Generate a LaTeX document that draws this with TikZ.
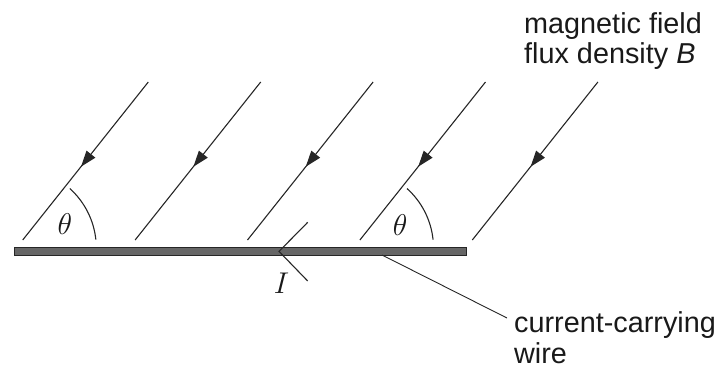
\RequirePackage{fix-cm}
\documentclass[tikz,border=0pt]{standalone}
\usepackage{fontspec}
\setmainfont{Liberation Sans}
\usetikzlibrary{arrows.meta,decorations.markings}
\begin{document}
\begin{tikzpicture}[x=1pt,y=-1pt,
  fieldline/.style={line width=1.1pt, draw=black!85, postaction={decorate},
    decoration={markings, mark=at position 0.536 with {\arrow{Triangle[length=16pt,width=11pt]}}}},
  thinline/.style={line width=1.1pt, draw=black!85},
  lbl/.style={font=\fontsize{28.8}{31}\selectfont, inner sep=0pt, text=black!90},
  mathlbl/.style={font=\fontsize{30}{34}\selectfont, inner sep=0pt, text=black!90},
  wirestyle/.style={draw=black!85, fill=black!60, line width=0.8pt, inner sep=0pt, outer sep=0pt}]
\useasboundingbox (0,0) rectangle (723,373);
% field lines
\foreach \i/\bx in {1/22.7,2/135.1,3/247.5,4/359.9,5/472.3} {
  \coordinate (b\i) at (\bx,240);
  \coordinate (t\i) at (\bx+125.6,82);
  \draw[fieldline] (t\i) -- (b\i);
}
% wire
\node[wirestyle, minimum width=452pt, minimum height=7.3pt] (wire) at (240,251.4) {};
% current chevron
\coordinate (itip) at (279,251.4);
\coordinate (iup) at (307.7,222.3);
\coordinate (ilo) at (307.7,281);
\draw[thinline] (iup) -- (itip) -- (ilo);
\node[mathlbl] (Ilabel) at (281.5,283) {$I$};
% angle arcs
\coordinate (c1) at (16.3,248);
\coordinate (c4) at (353.5,248);
\draw[thinline] ([shift={(-6:80)}]c1) arc[start angle=-6,end angle=-48,radius=80];
\draw[thinline] ([shift={(-6:80)}]c4) arc[start angle=-6,end angle=-48,radius=80];
\node[mathlbl] (th1) at (65,224) {$\theta$};
\node[mathlbl] (th4) at (400,225) {$\theta$};
% wire label
\coordinate (wp) at (382,255);
\coordinate (lend) at (507,318);
\draw[thinline, line width=0.9pt] (wp) -- (lend);
\node[lbl, anchor=base west] (cc1) at (514,332) {current-carrying};
\node[lbl, anchor=base west] (cc2) at (514,363) {wire};
% field label
\node[lbl, anchor=base west] (mf1) at (524,33) {magnetic field};
\node[lbl, anchor=base west] (mf2) at (524,63) {flux density \textit{B}};
\end{tikzpicture}
\end{document}
